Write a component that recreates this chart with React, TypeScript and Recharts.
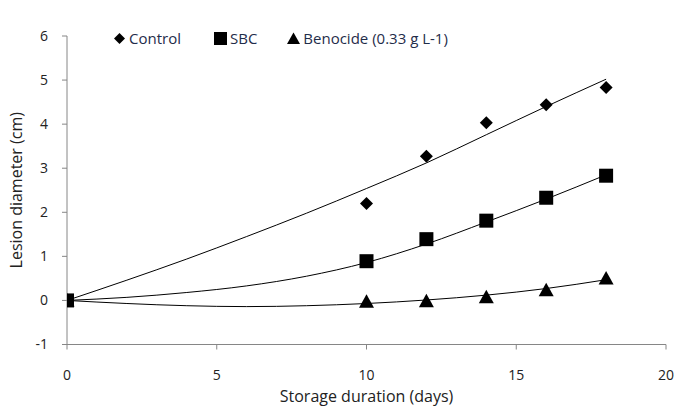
// Lesion diameter vs storage duration — scatter points with trendlines.

import {
  ComposedChart, Scatter, Line, XAxis, YAxis, Legend,
} from 'recharts'

const DAYS = [0, 10, 12, 14, 16, 18]
const CONTROL = [0, 2.2, 3.27, 4.03, 4.44, 4.83]
const SBC = [0, 0.89, 1.39, 1.81, 2.33, 2.83]
const BENOCIDE = [0, -0.03, -0.02, 0.07, 0.23, 0.5]

// trendline values
const TREND_DAYS = [0, 2, 4, 6, 8, 10, 12, 14, 16, 18]
const CONTROL_TREND = [0, 0.46, 0.94, 1.45, 1.98, 2.54, 3.12, 3.76, 4.4, 5.02]
const SBC_TREND = [0, 0.07, 0.18, 0.33, 0.55, 0.86, 1.28, 1.78, 2.3, 2.85]
const BENOCIDE_TREND = [0, -0.07, -0.12, -0.14, -0.12, -0.07, 0.01, 0.12, 0.27, 0.47]

const X_TICKS = [0, 5, 10, 15, 20]
const Y_TICKS = [-1, 0, 1, 2, 3, 4, 5, 6]

const LEGEND_ITEMS = [
  { name: 'Control', shape: 'diamond', gap: 33 },
  { name: 'SBC', shape: 'square', gap: 30 },
  { name: 'Benocide (0.33 g L-1)', shape: 'triangle', gap: 0 },
]

const toPoints = (ys: number[]) => DAYS.map((x, i) => ({ x, y: ys[i] }))
const toTrend = (ys: number[]) => TREND_DAYS.map((x, i) => ({ x, y: ys[i] }))

const FONT = '"Open Sans", "Noto Sans", sans-serif'
const AXIS = '#868686'

const Diamond = ({ cx, cy }: any) => (
  <polygon points={`${cx},${cy - 6.5} ${cx + 6.5},${cy} ${cx},${cy + 6.5} ${cx - 6.5},${cy}`} fill="#000" />
)
const Square = ({ cx, cy }: any) => (
  <rect x={cx - 7} y={cy - 7} width={14} height={14} fill="#000" />
)
const Triangle = ({ cx, cy }: any) => (
  <polygon points={`${cx},${cy - 7.5} ${cx + 7.5},${cy + 6} ${cx - 7.5},${cy + 6}`} fill="#000" />
)

const LegendIcon = ({ shape }: { shape: string }) => (
  <svg width={13} height={13} style={{ marginRight: 3 }}>
    {shape === 'diamond' && <polygon points="6.5,1 12,6.5 6.5,12 1,6.5" fill="#000" />}
    {shape === 'square' && <rect x={0} y={0} width={13} height={13} fill="#000" />}
    {shape === 'triangle' && <polygon points="6.5,0.5 13,12 0,12" fill="#000" />}
  </svg>
)

const CustomLegend = () => (
  <div style={{ display: 'flex', alignItems: 'center', fontFamily: FONT, fontSize: 15, color: '#1f2d4a' }}>
    {LEGEND_ITEMS.map(it => (
      <div key={it.name} style={{ display: 'flex', alignItems: 'center', marginRight: it.gap }}>
        <LegendIcon shape={it.shape} />
        <span>{it.name}</span>
      </div>
    ))}
  </div>
)

export default function App() {
  return (
    <div style={{ position: 'absolute', left: 0, top: 0, background: '#fff' }}>
      <ComposedChart width={676} height={408} margin={{ top: 16, right: 10, left: 0, bottom: 0 }}>
        <XAxis
          type="number"
          dataKey="x"
          domain={[0, 20]}
          ticks={X_TICKS}
          allowDataOverflow
          height={63.5}
          tickSize={5}
          tickMargin={21}
          stroke={AXIS}
          tick={{ fontSize: 14, fill: '#222', fontFamily: FONT }}
          label={{ value: 'Storage duration (days)', position: 'insideBottom', offset: 6, fontSize: 16, fill: '#222', fontFamily: FONT }}
        />
        <YAxis
          type="number"
          dataKey="y"
          domain={[-1, 6]}
          ticks={Y_TICKS}
          allowDataOverflow
          width={67}
          tickSize={5}
          tickMargin={14}
          stroke={AXIS}
          tick={{ fontSize: 14, fill: '#222', fontFamily: FONT }}
          label={{ value: 'Lesion diameter (cm)', angle: -90, position: 'insideLeft', offset: 16, fontSize: 16, fill: '#222', fontFamily: FONT, style: { textAnchor: 'middle' } }}
        />
        <Legend
          content={<CustomLegend />}
          layout="horizontal"
          verticalAlign="top"
          align="left"
          wrapperStyle={{ top: 28, left: 113, width: 460 }}
        />
        <Line data={toTrend(CONTROL_TREND)} dataKey="y" type="monotone" stroke="#000" strokeWidth={1} dot={false} isAnimationActive={false} legendType="none" />
        <Line data={toTrend(SBC_TREND)} dataKey="y" type="monotone" stroke="#000" strokeWidth={1} dot={false} isAnimationActive={false} legendType="none" />
        <Line data={toTrend(BENOCIDE_TREND)} dataKey="y" type="monotone" stroke="#000" strokeWidth={1} dot={false} isAnimationActive={false} legendType="none" />
        <Scatter name="Control" data={toPoints(CONTROL)} shape={<Diamond />} isAnimationActive={false} />
        <Scatter name="SBC" data={toPoints(SBC)} shape={<Square />} isAnimationActive={false} />
        <Scatter name="Benocide (0.33 g L-1)" data={toPoints(BENOCIDE)} shape={<Triangle />} isAnimationActive={false} />
      </ComposedChart>
    </div>
  )
}
